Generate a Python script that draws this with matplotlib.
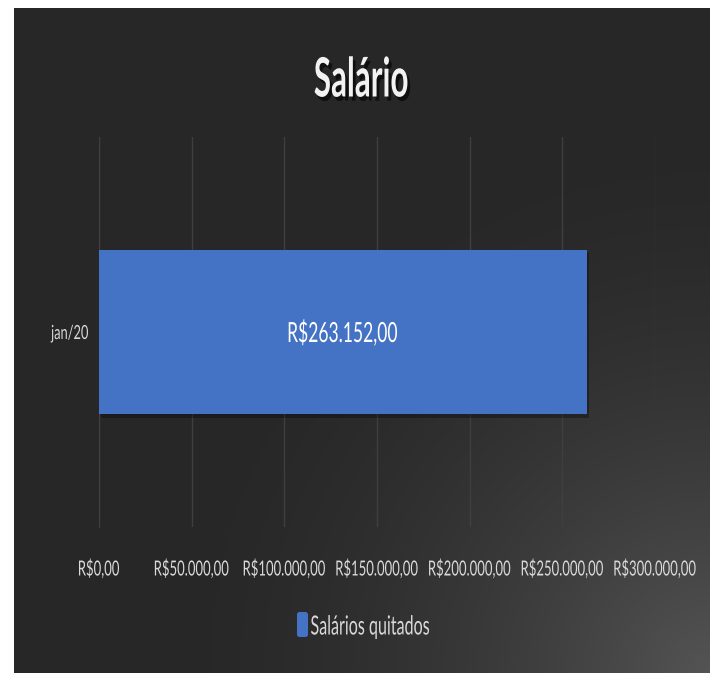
import numpy as np
import matplotlib
matplotlib.use('Agg')
import matplotlib.pyplot as plt
import matplotlib.patheffects as pe
from matplotlib.ticker import MultipleLocator
from matplotlib.textpath import TextPath
from matplotlib.font_manager import FontProperties
from matplotlib.patches import PathPatch, FancyBboxPatch
from matplotlib.transforms import Affine2D, blended_transform_factory

# Chart data
categories = ['jan/20']
values = [263152.00]
series_name = 'Salários quitados'
title = 'Salário'

BAR_COLOR = '#4472C4'
TEXT_COLOR = '#d9d9d9'
GRID_COLOR = '#3f3f3f'
FONT = 'Lato'
DPI = 100


def brl(v):
    s = f'{v:,.2f}'
    s = s.replace(',', 'X').replace('.', ',').replace('X', '.')
    return 'R$' + s


def narrow_text(fig, x, y, s, size, sx=0.62, ha='center', weight='normal',
                color=TEXT_COLOR, effects=None, zorder=5):
    # condensed text: glyph outlines squeezed horizontally, placed in pixels
    fp = FontProperties(family=FONT, weight=weight)
    tp = TextPath((0, 0), s, size=size, prop=fp)
    ext = tp.get_extents()
    if ha == 'center':
        x0 = (ext.x0 + ext.x1) / 2
    elif ha == 'right':
        x0 = ext.x1
    else:
        x0 = ext.x0
    y0 = 0.36 * size  # middle of the cap height
    k = DPI / 72
    tr = Affine2D().translate(-x0, -y0).scale(sx * k, k).translate(x, y)
    p = PathPatch(tp, transform=tr, facecolor=color, edgecolor='none', zorder=zorder)
    if effects:
        p.set_path_effects(effects)
    fig.add_artist(p)
    return p


fig = plt.figure(figsize=(7.14, 6.73), dpi=DPI, facecolor='white')
H = 673

# Dark background with a light glow in the lower right corner
bg = fig.add_axes([14 / 714, 0, (710 - 14) / 714, (673 - 8) / 673])
bg.set_axis_off()
h, w = 665, 696
yy, xx = np.mgrid[0:h, 0:w]
dist = np.hypot(xx - w, yy - h)
t = np.clip(1 - dist / 560, 0, 1) ** 1.7
shade = (0x27 + (0x54 - 0x27) * t) / 255
bg.imshow(np.dstack([shade, shade, shade]), aspect='auto', extent=(0, 1, 0, 1))
bg.set_xlim(0, 1)
bg.set_ylim(0, 1)

ax = fig.add_axes([99 / 714, 146 / 673, 556 / 714, 390 / 673])
ax.patch.set_alpha(0)

bars = ax.barh(categories, values, height=0.423, color=BAR_COLOR, zorder=3)
for b in bars:
    b.set_path_effects([pe.SimplePatchShadow(offset=(1.5, -2.5), shadow_rgbFace='black', alpha=0.3),
                        pe.Normal()])

ax.set_xlim(0, 300000)
ax.set_ylim(-0.5, 0.5)
ax.xaxis.set_major_locator(MultipleLocator(50000))
ax.grid(axis='x', color=GRID_COLOR, linewidth=1, zorder=0)
ax.set_axisbelow(True)
for side in ['top', 'right', 'bottom']:
    ax.spines[side].set_visible(False)
ax.spines['left'].set_color(GRID_COLOR)
ax.tick_params(length=0, labelbottom=False, labelleft=False)

# value labels inside the bars
for b, v in zip(bars, values):
    cx, cy = ax.transData.transform((b.get_x() + b.get_width() / 2, b.get_y() + b.get_height() / 2))
    narrow_text(fig, cx, cy, brl(v), size=20, sx=0.63, color='white')

# x tick labels
xb = blended_transform_factory(ax.transData, ax.transAxes)
for tk in ax.get_xticks():
    if 0 <= tk <= 300000:
        px, py = xb.transform((tk, 0))
        narrow_text(fig, px, py - 41, brl(tk), size=15, sx=0.63)

# y tick labels
yb = blended_transform_factory(ax.transAxes, ax.transData)
for i, c in enumerate(categories):
    px, py = yb.transform((0, i))
    narrow_text(fig, px - 11, py, c, size=14, sx=0.66, ha='right')

# title
narrow_text(fig, 361, H - 77, title, size=39, sx=0.58, weight='bold', color='#f2f2f2',
            effects=[pe.withSimplePatchShadow(offset=(2, -3), shadow_rgbFace='black', alpha=0.6)])

# legend
fig.add_artist(FancyBboxPatch((297, H - 637), 11, 25, boxstyle='round,pad=0,rounding_size=2.5',
                              transform=None, facecolor=BAR_COLOR, edgecolor='none'))
narrow_text(fig, 311, H - 625, series_name, size=19, sx=0.61, ha='left')

fig.savefig('out.png', dpi=DPI, facecolor=fig.get_facecolor())
